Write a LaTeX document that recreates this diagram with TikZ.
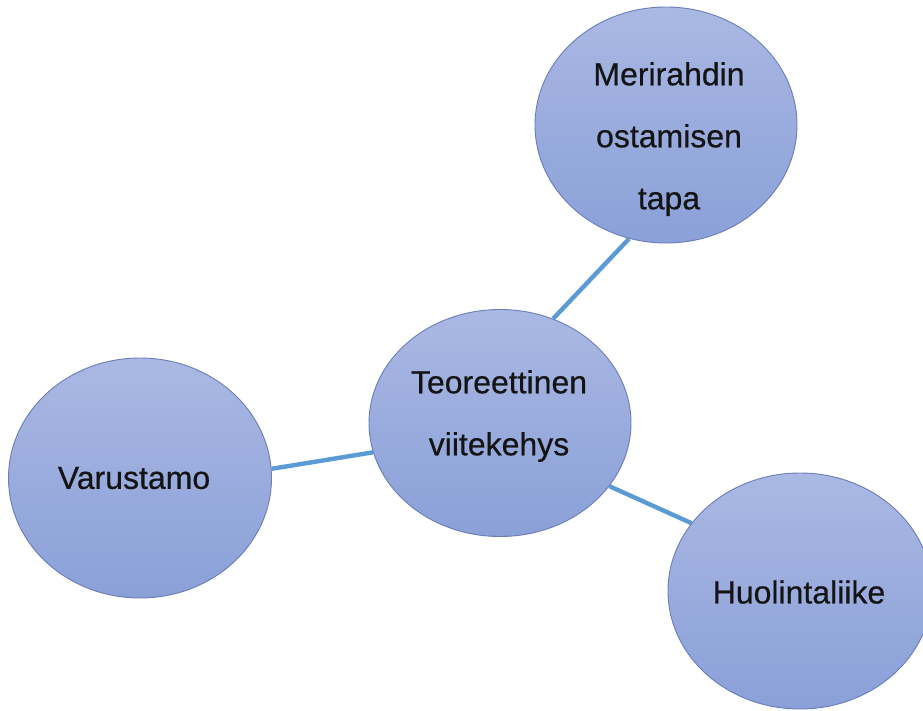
\documentclass[tikz,border=0pt]{standalone}
\usepackage{fontspec}
\setmainfont{Liberation Sans}
\newfontfamily\bubblefont[BoldFont=Liberation Sans, BoldFeatures={FakeBold=0.5}]{Liberation Sans}
\usetikzlibrary{shapes.geometric,backgrounds}
\definecolor{topc}{HTML}{AAB8E3}
\definecolor{botc}{HTML}{8AA0D8}
\definecolor{edgec}{HTML}{6A7DB8}
\definecolor{linkc}{HTML}{5B9BD5}
\begin{document}
\begin{tikzpicture}[x=1pt,y=-1pt,
  bubble/.style={ellipse, draw=edgec, line width=0.9pt, top color=topc, bottom color=botc, inner sep=0pt},
  btext/.style={font=\bubblefont\bfseries\fontsize{32}{62}\selectfont, align=center, text=black!92, inner sep=0pt},
  link/.style={draw=linkc, line width=4.4pt}]
\useasboundingbox (0,0) rectangle (923,710);
\node[bubble, minimum width=262pt, minimum height=236pt] (top) at (666,125) {};
\node[bubble, minimum width=262pt, minimum height=227pt] (cen) at (500,423) {};
\node[bubble, minimum width=263pt, minimum height=240pt] (lft) at (140,478) {};
\node[bubble, minimum width=264pt, minimum height=236pt] (rgt) at (800,591) {};
\node[btext] (ttop) at (669,139) {Merirahdin\\ostamisen\\tapa};
\node[btext] (tcen) at (499,416) {Teoreettinen\\viitekehys};
\node[btext] (tlft) at (134,478) {Varustamo};
\node[btext] (trgt) at (799,592) {Huolintaliike};
\begin{scope}[on background layer]
  \fill[white] (0,0) rectangle (923,710);
  \draw[link] (cen.63) -- (top.252.6);
  \draw[link] (lft.4.8) -- (cen.193);
  \draw[link] (cen.-30.9) -- (rgt.148.3);
\end{scope}
\end{tikzpicture}
\end{document}
